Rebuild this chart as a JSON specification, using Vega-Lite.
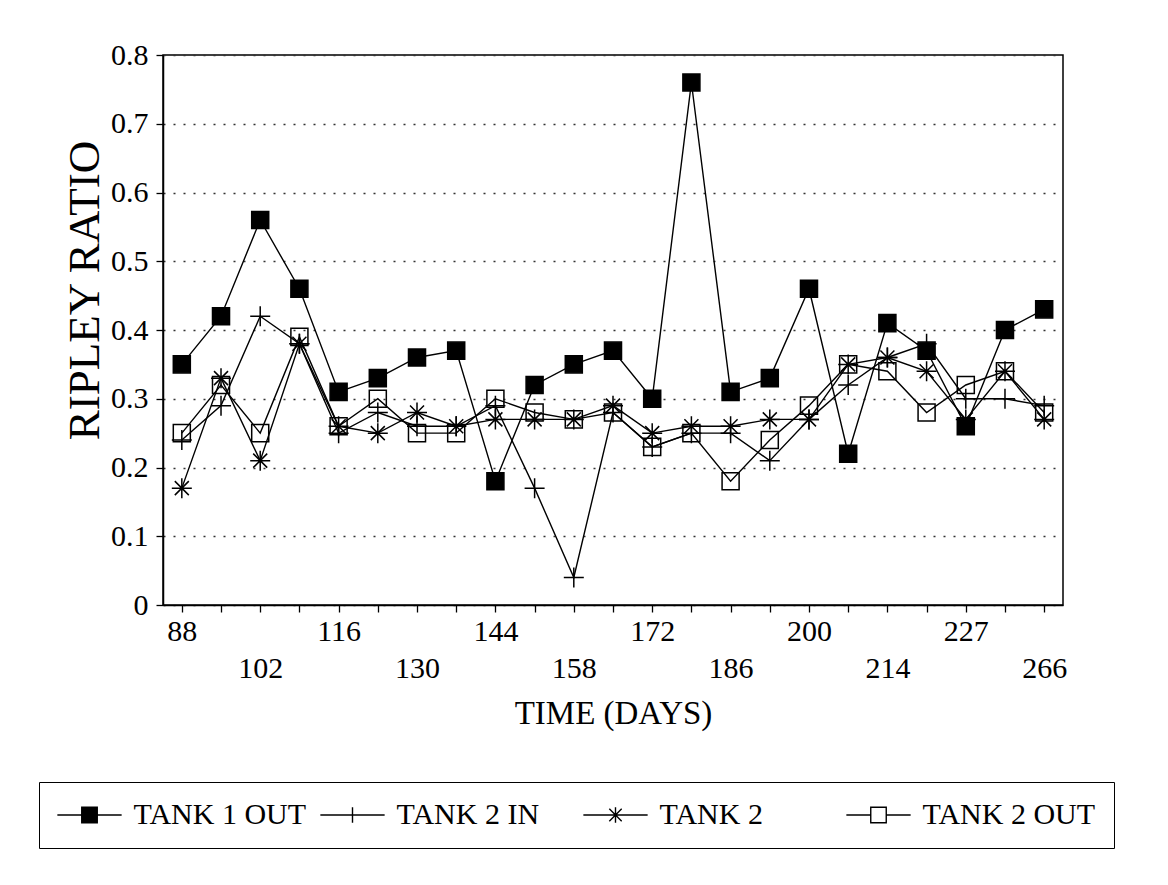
{
  "$schema": "https://vega.github.io/schema/vega-lite/v6.json",
  "autosize": {"type": "none"},
  "padding": {"left": 163, "top": 55, "right": 105, "bottom": 280},
  "width": 900,
  "height": 550,
  "background": "white",
  "config": {
    "font": "Liberation Serif",
    "view": {"stroke": "black", "strokeWidth": 1.5},
    "axis": {"domainColor": "black", "tickColor": "black", "labelColor": "black", "titleColor": "black", "titleFontWeight": "normal", "labelFont": "Liberation Serif", "titleFont": "Liberation Serif"},
    "legend": {
      "title": null,
      "orient": "none",
      "legendX": -124,
      "legendY": 727,
      "direction": "horizontal",
      "columns": 4,
      "gridAlign": "all",
      "columnPadding": 10,
      "padding": 18,
      "strokeColor": "black",
      "labelFont": "Liberation Serif",
      "labelFontSize": 30,
      "labelColor": "black",
      "labelLimit": 400,
      "labelOffset": 29,
      "symbolSize": 60,
      "symbolOffset": 17.5,
      "symbolOpacity": 1,
      "symbolStrokeColor": "black",
      "symbolStrokeWidth": 1.4
    }
  },
  "datasets": {
    "ripley": [
      {"day": 88, "series": "TANK 1 OUT", "value": 0.35},
      {"day": 95, "series": "TANK 1 OUT", "value": 0.42},
      {"day": 102, "series": "TANK 1 OUT", "value": 0.56},
      {"day": 109, "series": "TANK 1 OUT", "value": 0.46},
      {"day": 116, "series": "TANK 1 OUT", "value": 0.31},
      {"day": 123, "series": "TANK 1 OUT", "value": 0.33},
      {"day": 130, "series": "TANK 1 OUT", "value": 0.36},
      {"day": 137, "series": "TANK 1 OUT", "value": 0.37},
      {"day": 144, "series": "TANK 1 OUT", "value": 0.18},
      {"day": 151, "series": "TANK 1 OUT", "value": 0.32},
      {"day": 158, "series": "TANK 1 OUT", "value": 0.35},
      {"day": 165, "series": "TANK 1 OUT", "value": 0.37},
      {"day": 172, "series": "TANK 1 OUT", "value": 0.30},
      {"day": 179, "series": "TANK 1 OUT", "value": 0.76},
      {"day": 186, "series": "TANK 1 OUT", "value": 0.31},
      {"day": 193, "series": "TANK 1 OUT", "value": 0.33},
      {"day": 200, "series": "TANK 1 OUT", "value": 0.46},
      {"day": 207, "series": "TANK 1 OUT", "value": 0.22},
      {"day": 214, "series": "TANK 1 OUT", "value": 0.41},
      {"day": 221, "series": "TANK 1 OUT", "value": 0.37},
      {"day": 227, "series": "TANK 1 OUT", "value": 0.26},
      {"day": 240, "series": "TANK 1 OUT", "value": 0.40},
      {"day": 266, "series": "TANK 1 OUT", "value": 0.43},
      {"day": 88, "series": "TANK 2 IN", "value": 0.24},
      {"day": 95, "series": "TANK 2 IN", "value": 0.29},
      {"day": 102, "series": "TANK 2 IN", "value": 0.42},
      {"day": 109, "series": "TANK 2 IN", "value": 0.38},
      {"day": 116, "series": "TANK 2 IN", "value": 0.25},
      {"day": 123, "series": "TANK 2 IN", "value": 0.28},
      {"day": 130, "series": "TANK 2 IN", "value": 0.26},
      {"day": 137, "series": "TANK 2 IN", "value": 0.26},
      {"day": 144, "series": "TANK 2 IN", "value": 0.29},
      {"day": 151, "series": "TANK 2 IN", "value": 0.17},
      {"day": 158, "series": "TANK 2 IN", "value": 0.04},
      {"day": 165, "series": "TANK 2 IN", "value": 0.28},
      {"day": 172, "series": "TANK 2 IN", "value": 0.23},
      {"day": 179, "series": "TANK 2 IN", "value": 0.25},
      {"day": 186, "series": "TANK 2 IN", "value": 0.25},
      {"day": 193, "series": "TANK 2 IN", "value": 0.21},
      {"day": 200, "series": "TANK 2 IN", "value": 0.27},
      {"day": 207, "series": "TANK 2 IN", "value": 0.32},
      {"day": 214, "series": "TANK 2 IN", "value": 0.36},
      {"day": 221, "series": "TANK 2 IN", "value": 0.38},
      {"day": 227, "series": "TANK 2 IN", "value": 0.30},
      {"day": 240, "series": "TANK 2 IN", "value": 0.30},
      {"day": 266, "series": "TANK 2 IN", "value": 0.29},
      {"day": 88, "series": "TANK 2", "value": 0.17},
      {"day": 95, "series": "TANK 2", "value": 0.33},
      {"day": 102, "series": "TANK 2", "value": 0.21},
      {"day": 109, "series": "TANK 2", "value": 0.38},
      {"day": 116, "series": "TANK 2", "value": 0.26},
      {"day": 123, "series": "TANK 2", "value": 0.25},
      {"day": 130, "series": "TANK 2", "value": 0.28},
      {"day": 137, "series": "TANK 2", "value": 0.26},
      {"day": 144, "series": "TANK 2", "value": 0.27},
      {"day": 151, "series": "TANK 2", "value": 0.27},
      {"day": 158, "series": "TANK 2", "value": 0.27},
      {"day": 165, "series": "TANK 2", "value": 0.29},
      {"day": 172, "series": "TANK 2", "value": 0.25},
      {"day": 179, "series": "TANK 2", "value": 0.26},
      {"day": 186, "series": "TANK 2", "value": 0.26},
      {"day": 193, "series": "TANK 2", "value": 0.27},
      {"day": 200, "series": "TANK 2", "value": 0.27},
      {"day": 207, "series": "TANK 2", "value": 0.35},
      {"day": 214, "series": "TANK 2", "value": 0.36},
      {"day": 221, "series": "TANK 2", "value": 0.34},
      {"day": 227, "series": "TANK 2", "value": 0.27},
      {"day": 240, "series": "TANK 2", "value": 0.34},
      {"day": 266, "series": "TANK 2", "value": 0.27},
      {"day": 88, "series": "TANK 2 OUT", "value": 0.25},
      {"day": 95, "series": "TANK 2 OUT", "value": 0.32},
      {"day": 102, "series": "TANK 2 OUT", "value": 0.25},
      {"day": 109, "series": "TANK 2 OUT", "value": 0.39},
      {"day": 116, "series": "TANK 2 OUT", "value": 0.26},
      {"day": 123, "series": "TANK 2 OUT", "value": 0.30},
      {"day": 130, "series": "TANK 2 OUT", "value": 0.25},
      {"day": 137, "series": "TANK 2 OUT", "value": 0.25},
      {"day": 144, "series": "TANK 2 OUT", "value": 0.30},
      {"day": 151, "series": "TANK 2 OUT", "value": 0.28},
      {"day": 158, "series": "TANK 2 OUT", "value": 0.27},
      {"day": 165, "series": "TANK 2 OUT", "value": 0.28},
      {"day": 172, "series": "TANK 2 OUT", "value": 0.23},
      {"day": 179, "series": "TANK 2 OUT", "value": 0.25},
      {"day": 186, "series": "TANK 2 OUT", "value": 0.18},
      {"day": 193, "series": "TANK 2 OUT", "value": 0.24},
      {"day": 200, "series": "TANK 2 OUT", "value": 0.29},
      {"day": 207, "series": "TANK 2 OUT", "value": 0.35},
      {"day": 214, "series": "TANK 2 OUT", "value": 0.34},
      {"day": 221, "series": "TANK 2 OUT", "value": 0.28},
      {"day": 227, "series": "TANK 2 OUT", "value": 0.32},
      {"day": 240, "series": "TANK 2 OUT", "value": 0.34},
      {"day": 266, "series": "TANK 2 OUT", "value": 0.28}
    ]
  },
  "data": {"name": "ripley"},
  "encoding": {
    "x": {
      "field": "day",
      "type": "ordinal",
      "scale": {"type": "point", "padding": 0.48},
      "axis": {
        "title": "TIME (DAYS)",
        "titleFontSize": 33,
        "titlePadding": 14,
        "labelAngle": 0,
        "labelFontSize": 30,
        "labelPadding": 4,
        "labelLineHeight": 37,
        "labelOverlap": false,
        "labelBound": false,
        "labelFlush": false,
        "labelExpr": "round(datum.index*22) % 4 == 0 ? datum.label : (round(datum.index*22) % 4 == 2 ? ['', datum.label] : '')",
        "tickSize": 7,
        "tickWidth": 1.3,
        "domainWidth": 1.5,
        "grid": false
      }
    },
    "y": {
      "field": "value",
      "type": "quantitative",
      "scale": {"domain": [0, 0.8], "nice": false, "zero": true},
      "axis": {
        "title": "RIPLEY RATIO",
        "titleFontSize": 45,
        "titleX": -65,
        "titleY": 235,
        "titleBaseline": "alphabetic",
        "titleAngle": -90,
        "values": [0, 0.1, 0.2, 0.3, 0.4, 0.5, 0.6, 0.7, 0.8],
        "format": ".1~f",
        "labelFontSize": 30,
        "labelPadding": 8,
        "tickSize": 7,
        "tickWidth": 1.3,
        "domainWidth": 1.5,
        "grid": true,
        "gridDash": [2, 8],
        "gridColor": "#333333",
        "gridWidth": 1.3
      }
    }
  },
  "layer": [
    {
      "mark": {"type": "line", "stroke": "black", "strokeWidth": 1.4},
      "encoding": {"detail": {"field": "series", "type": "nominal"}}
    },
    {
      "mark": {"type": "point", "stroke": "black", "strokeWidth": 1.5, "opacity": 1},
      "encoding": {
        "shape": {
          "condition": [
            {"test": "datum.series === 'TANK 2 IN'", "value": "M-1,0H1M0,-1V1"},
            {"test": "datum.series === 'TANK 2'", "value": "M-1,0H1M0,-1V1M-0.7,-0.7L0.7,0.7M-0.7,0.7L0.7,-0.7"}
          ],
          "value": "square"
        },
        "fill": {
          "condition": {"test": "datum.series === 'TANK 1 OUT'", "value": "black"},
          "value": "transparent"
        },
        "size": {
          "condition": {"test": "datum.series === 'TANK 1 OUT' || datum.series === 'TANK 2 OUT'", "value": 290},
          "value": 400
        }
      }
    },
    {
      "transform": [{"filter": "false"}],
      "mark": {"type": "point", "strokeWidth": 1.4, "size": 60},
      "encoding": {
        "shape": {
          "field": "series",
          "type": "nominal",
          "scale": {
            "domain": ["TANK 1 OUT", "TANK 2 IN", "TANK 2", "TANK 2 OUT"],
            "range": ["M-8.3,0H8.3M-2,-2H2V2H-2Z", "M-8.3,0H8.3M0,-2V2", "M-8.3,0H8.3M0,-2V2M-1.6,-1.6L1.6,1.6M-1.6,1.6L1.6,-1.6", "M-8.3,0H-2M2,0H8.3M-2,-2H2V2H-2Z"]
          }
        },
        "fill": {
          "field": "series",
          "type": "nominal",
          "scale": {
            "domain": ["TANK 1 OUT", "TANK 2 IN", "TANK 2", "TANK 2 OUT"],
            "range": ["black", "transparent", "transparent", "transparent"]
          }
        },
        "stroke": {
          "field": "series",
          "type": "nominal",
          "scale": {
            "domain": ["TANK 1 OUT", "TANK 2 IN", "TANK 2", "TANK 2 OUT"],
            "range": ["black", "black", "black", "black"]
          }
        }
      }
    }
  ]
}
